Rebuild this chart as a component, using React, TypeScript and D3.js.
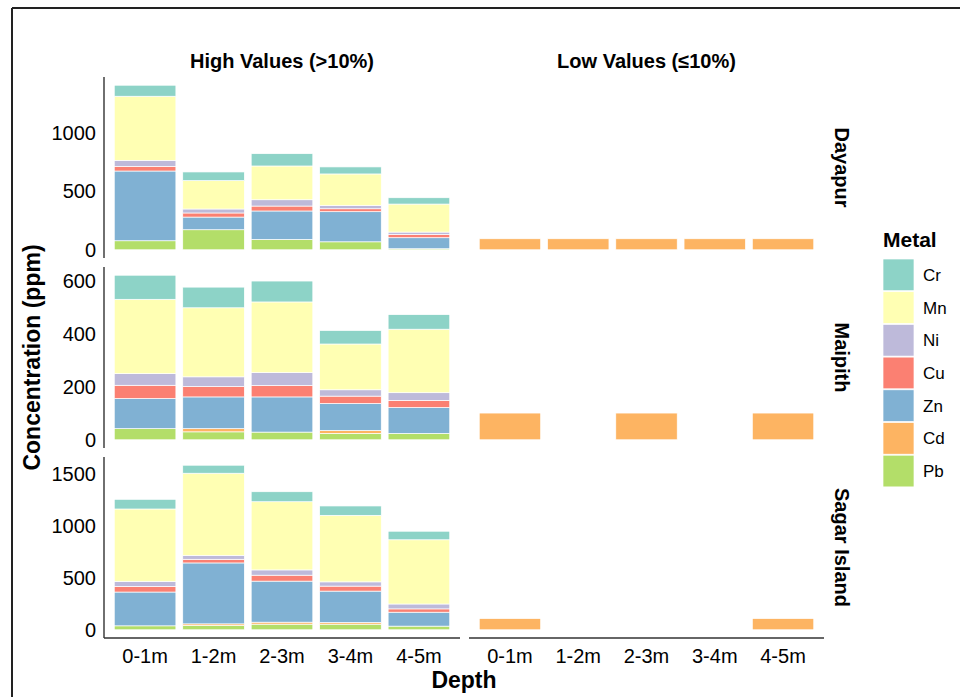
import React from "react";
import * as d3 from "d3";

// categories
const depths = ["0-1m", "1-2m", "2-3m", "3-4m", "4-5m"];
const sites = ["Dayapur", "Maipith", "Sagar Island"];
const metals = ["Cr", "Mn", "Ni", "Cu", "Zn", "Cd", "Pb"];
const metalColors = ["#8DD3C7", "#FFFFB3", "#BEBADA", "#FB8072", "#80B1D3", "#FDB462", "#B3DE69"];
const panelTitles = ["High Values (>10%)", "Low Values (≤10%)"];

// high values (ppm), one entry per depth
const dayapurCr = [94, 74, 105, 60, 54];
const dayapurMn = [547, 242, 288, 268, 239];
const dayapurNi = [51, 34, 54, 29, 20];
const dayapurCu = [40, 35, 42, 25, 28];
const dayapurZn = [595, 108, 243, 257, 94];
const dayapurCd = [0, 0, 0, 0, 0];
const dayapurPb = [77, 171, 88, 68, 9];

const maipithCr = [91, 78, 79, 51, 55];
const maipithMn = [281, 261, 267, 173, 240];
const maipithNi = [44, 37, 49, 24, 29];
const maipithCu = [50, 39, 43, 28, 27];
const maipithZn = [114, 120, 133, 102, 98];
const maipithCd = [0, 12, 0, 11, 0];
const maipithPb = [42, 30, 29, 24, 24];

const sagarCr = [93, 77, 96, 90, 82];
const sagarMn = [697, 790, 656, 640, 618];
const sagarNi = [48, 38, 51, 41, 47];
const sagarCu = [54, 35, 57, 48, 32];
const sagarZn = [325, 586, 395, 302, 134];
const sagarCd = [0, 16, 19, 16, 0];
const sagarPb = [38, 41, 54, 54, 35];

// low values (ppm): only Cd shows
const dayapurLowCd = [94, 94, 94, 94, 94];
const maipithLowCd = [101, 0, 101, 0, 101];
const sagarLowCd = [108, 0, 0, 0, 108];

// y tick labels per row
const dayapurTicks = [0, 500, 1000];
const maipithTicks = [0, 200, 400, 600];
const sagarTicks = [0, 500, 1000, 1500];

const highSeries = [
  { Cr: dayapurCr, Mn: dayapurMn, Ni: dayapurNi, Cu: dayapurCu, Zn: dayapurZn, Cd: dayapurCd, Pb: dayapurPb },
  { Cr: maipithCr, Mn: maipithMn, Ni: maipithNi, Cu: maipithCu, Zn: maipithZn, Cd: maipithCd, Pb: maipithPb },
  { Cr: sagarCr, Mn: sagarMn, Ni: sagarNi, Cu: sagarCu, Zn: sagarZn, Cd: sagarCd, Pb: sagarPb },
];
const lowSeries = [dayapurLowCd, maipithLowCd, sagarLowCd];
const rowTicks = [dayapurTicks, maipithTicks, sagarTicks];

const font = "'Liberation Sans', Arial, Helvetica, sans-serif";
const colX: [number, number][] = [[104, 460], [469, 824]];
const rowY: [number, number][] = [[77, 258], [267, 448], [457, 638]];

// bottom-to-top stacking order
const stackKeys = metals.slice().reverse();
const color = d3.scaleOrdinal<string, string>().domain(metals).range(metalColors);

function table(series: Record<string, number[]>) {
  return depths.map((depth, i) => {
    const row: any = { depth };
    metals.forEach((m) => (row[m] = series[m] ? series[m][i] : 0));
    return row;
  });
}

const App = () => {
  const stacker = d3.stack<any>().keys(stackKeys);

  const panels: JSX.Element[] = [];
  sites.forEach((site, r) => {
    const high = table(highSeries[r] as any);
    const low = table({ Cd: lowSeries[r] });
    const highStack = stacker(high);
    const lowStack = stacker(low);
    const maxVal = d3.max([...highStack, ...lowStack].flatMap((s) => s.map((d) => d[1]))) as number;
    const [top, bottom] = rowY[r];
    const y = d3.scaleLinear().domain([-0.05 * maxVal, 1.05 * maxVal]).range([bottom, top]);

    [highStack, lowStack].forEach((stacked, c) => {
      const x = d3.scaleBand().domain(depths).range(colX[c]).paddingInner(0.1).paddingOuter(0.15);
      panels.push(
        <g key={`p-${r}-${c}`}>
          {stacked.map((layer) => (
            <g key={layer.key} fill={color(layer.key)}>
              {layer.map((d, i) =>
                d[1] - d[0] > 0 ? (
                  <rect
                    key={i}
                    x={x(depths[i])}
                    width={x.bandwidth()}
                    y={y(d[1])}
                    height={y(d[0]) - y(d[1])}
                    stroke="#fff"
                    strokeWidth={0.7}
                  />
                ) : null
              )}
            </g>
          ))}
        </g>
      );
    });

    // left axis
    panels.push(
      <g key={`ya-${r}`}>
        <line x1={colX[0][0]} x2={colX[0][0]} y1={top} y2={bottom} stroke="#333" strokeWidth={1.4} />
        {rowTicks[r].map((t) => (
          <text key={t} x={96} y={y(t)} textAnchor="end" dominantBaseline="central" fontSize={20} fill="#000">
            {t}
          </text>
        ))}
      </g>
    );

    // right strip
    panels.push(
      <text
        key={`strip-${r}`}
        transform={`translate(835,${(top + bottom) / 2}) rotate(90)`}
        textAnchor="middle"
        fontSize={20}
        fontWeight="bold"
        fill="#000"
      >
        {site}
      </text>
    );
  });

  // bottom axes
  colX.forEach(([x0, x1], c) => {
    const x = d3.scaleBand().domain(depths).range([x0, x1]).paddingInner(0.1).paddingOuter(0.15);
    const yb = rowY[2][1];
    panels.push(
      <g key={`xa-${c}`}>
        <line x1={x0} x2={x1} y1={yb} y2={yb} stroke="#333" strokeWidth={1.4} />
        {depths.map((d) => (
          <text key={d} x={(x(d) as number) + x.bandwidth() / 2} y={663} textAnchor="middle" fontSize={20} fill="#000">
            {d}
          </text>
        ))}
        <text x={(x0 + x1) / 2} y={68} textAnchor="middle" fontSize={20} fontWeight="bold" fill="#000">
          {panelTitles[c]}
        </text>
      </g>
    );
  });

  const keyStep = 32.7;
  return (
    <svg
      width={960}
      height={697}
      style={{ position: "absolute", left: 0, top: 0, background: "#fff" }}
      fontFamily={font}
    >
      <rect width={960} height={697} fill="#fff" />
      <line x1={12} x2={960} y1={8} y2={8} stroke="#222" strokeWidth={2} />
      <line x1={12} x2={12} y1={8} y2={697} stroke="#222" strokeWidth={2} />
      {panels}
      <text x={(colX[0][0] + colX[1][1]) / 2} y={688} textAnchor="middle" fontSize={23} fontWeight="bold">
        Depth
      </text>
      <text
        transform={`translate(40,${(rowY[0][0] + rowY[2][1]) / 2}) rotate(-90)`}
        textAnchor="middle"
        fontSize={23}
        fontWeight="bold"
      >
        Concentration (ppm)
      </text>
      <g transform="translate(883,0)">
        <text x={0} y={247} fontSize={21} fontWeight="bold">
          Metal
        </text>
        {metals.map((m, i) => (
          <g key={m} transform={`translate(0,${259 + i * keyStep})`}>
            <rect width={31} height={keyStep - 1} fill={color(m)} stroke="#fff" strokeWidth={0.7} />
            <text x={40} y={keyStep / 2} dominantBaseline="central" fontSize={17}>
              {m}
            </text>
          </g>
        ))}
      </g>
    </svg>
  );
};

export default App;
